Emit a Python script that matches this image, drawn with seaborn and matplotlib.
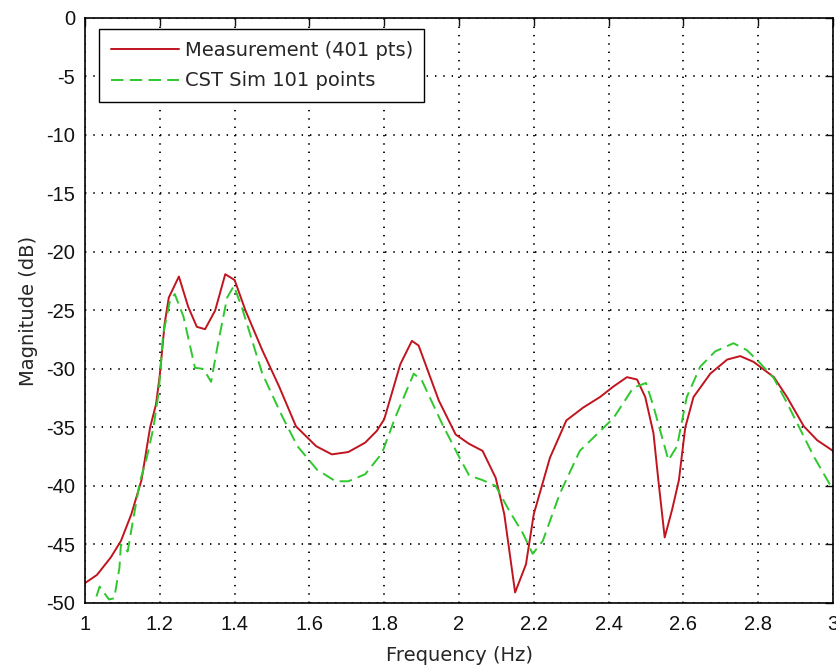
import matplotlib
matplotlib.use("Agg")
import matplotlib.pyplot as plt
import seaborn as sns
import pandas as pd

# Measured response (401-point sweep), frequency in Hz and magnitude in dB
meas_freq = [1.000, 1.032, 1.069, 1.096, 1.124, 1.151, 1.174, 1.190, 1.200, 1.213,
             1.224, 1.251, 1.276, 1.299, 1.321, 1.348, 1.375, 1.400, 1.429, 1.474,
             1.519, 1.564, 1.618, 1.660, 1.704, 1.749, 1.780, 1.800, 1.843, 1.874,
             1.892, 1.946, 1.991, 2.027, 2.063, 2.098, 2.121, 2.150, 2.179, 2.200,
             2.243, 2.287, 2.332, 2.377, 2.413, 2.449, 2.476, 2.498, 2.520, 2.533,
             2.550, 2.570, 2.588, 2.605, 2.627, 2.672, 2.717, 2.752, 2.788, 2.842,
             2.877, 2.922, 2.958, 3.000]
meas_db = [-48.3, -47.6, -46.1, -44.7, -42.4, -39.5, -35.0, -33.0, -30.5, -26.1,
           -23.9, -22.1, -24.7, -26.4, -26.6, -25.0, -21.9, -22.4, -25.0, -28.4,
           -31.5, -34.9, -36.6, -37.3, -37.1, -36.3, -35.3, -34.3, -29.6, -27.6,
           -28.0, -32.7, -35.6, -36.4, -37.0, -39.3, -42.4, -49.1, -46.7, -42.4,
           -37.6, -34.4, -33.3, -32.4, -31.5, -30.7, -30.9, -32.4, -35.5, -39.5,
           -44.4, -42.0, -39.5, -35.0, -32.4, -30.4, -29.2, -28.9, -29.4, -30.7,
           -32.4, -34.9, -36.1, -37.0]

# CST simulation (101 points)
sim_freq = [1.000, 1.039, 1.064, 1.078, 1.092, 1.096, 1.114, 1.128, 1.147, 1.165,
            1.183, 1.197, 1.209, 1.227, 1.240, 1.263, 1.294, 1.317, 1.337, 1.357,
            1.380, 1.398, 1.420, 1.474, 1.528, 1.568, 1.620, 1.670, 1.704, 1.749,
            1.794, 1.830, 1.879, 1.901, 1.955, 2.000, 2.027, 2.063, 2.098, 2.134,
            2.170, 2.197, 2.224, 2.269, 2.323, 2.368, 2.413, 2.466, 2.500, 2.520,
            2.560, 2.583, 2.609, 2.645, 2.685, 2.734, 2.770, 2.802, 2.842, 2.877,
            2.913, 2.949, 2.994]
sim_db = [-52.5, -48.6, -49.7, -49.6, -47.0, -45.0, -45.6, -43.0, -39.6, -37.6,
          -35.0, -32.0, -27.0, -24.2, -23.6, -25.5, -29.9, -30.0, -31.1, -27.6,
          -23.9, -22.9, -24.8, -30.4, -34.1, -36.6, -38.6, -39.6, -39.6, -39.0,
          -37.2, -34.1, -30.4, -31.0, -34.7, -37.5, -39.1, -39.5, -40.0, -42.1,
          -44.0, -45.8, -44.7, -40.7, -37.0, -35.6, -34.2, -31.6, -31.2, -33.2,
          -37.8, -36.6, -32.4, -29.8, -28.5, -27.8, -28.4, -29.4, -30.8, -32.9,
          -35.2, -37.5, -40.0]

series_names = ["Measurement (401 pts)", "CST Sim 101 points"]
x_ticks = [1, 1.2, 1.4, 1.6, 1.8, 2, 2.2, 2.4, 2.6, 2.8, 3]
x_tick_labels = ["1", "1.2", "1.4", "1.6", "1.8", "2", "2.2", "2.4", "2.6", "2.8", "3"]
y_ticks = [-50, -45, -40, -35, -30, -25, -20, -15, -10, -5, 0]

meas = pd.DataFrame({"freq": meas_freq, "db": meas_db})
sim = pd.DataFrame({"freq": sim_freq, "db": sim_db})

sns.set_theme(style="white")
plt.rcParams["font.family"] = ["Liberation Sans", "DejaVu Sans"]
plt.rcParams["lines.scale_dashes"] = False

fig = plt.figure(figsize=(8.36, 6.67), dpi=100)
ax = fig.add_axes([0.1017, 0.0960, 0.8947, 0.8771])

sns.lineplot(data=meas, x="freq", y="db", ax=ax, color="#c0141e", lw=1.4,
             sort=False, label=series_names[0])
sns.lineplot(data=sim, x="freq", y="db", ax=ax, color="#2ec82e", lw=1.4,
             sort=False, label=series_names[1], linestyle=(0, (9, 4.5)))

ax.set_xlim(1, 3)
ax.set_ylim(-50, 0)
ax.set_xticks(x_ticks)
ax.set_xticklabels(x_tick_labels)
ax.set_yticks(y_ticks)
ax.set_yticklabels([str(v) for v in y_ticks])

ax.grid(True, color="black", linestyle=(0, (1, 5)), linewidth=1.3)
ax.tick_params(axis="both", which="both", direction="in", length=6, width=1,
               top=True, right=True, labelsize=14.5, colors="#111111", pad=7)
ax.tick_params(axis="x", pad=9)
for s in ax.spines.values():
    s.set_color("black")
    s.set_linewidth(1.2)

label_font = {"family": ["DejaVu Sans"], "size": 14}
ax.set_xlabel("Frequency (Hz)", fontdict=label_font, labelpad=8)
ax.set_ylabel("Magnitude (dB)", fontdict=label_font, labelpad=6)

leg = ax.legend(loc="upper left", bbox_to_anchor=(0.0187, 0.981), borderaxespad=0,
                prop={"family": ["DejaVu Sans"], "size": 14}, frameon=True,
                fancybox=False, handlelength=3.5, handletextpad=0.3,
                labelspacing=0.6, borderpad=0.6)
leg.get_frame().set_edgecolor("black")
leg.get_frame().set_linewidth(1.0)
leg.get_frame().set_alpha(1)

fig.savefig("out.png", dpi=100, facecolor="white")
